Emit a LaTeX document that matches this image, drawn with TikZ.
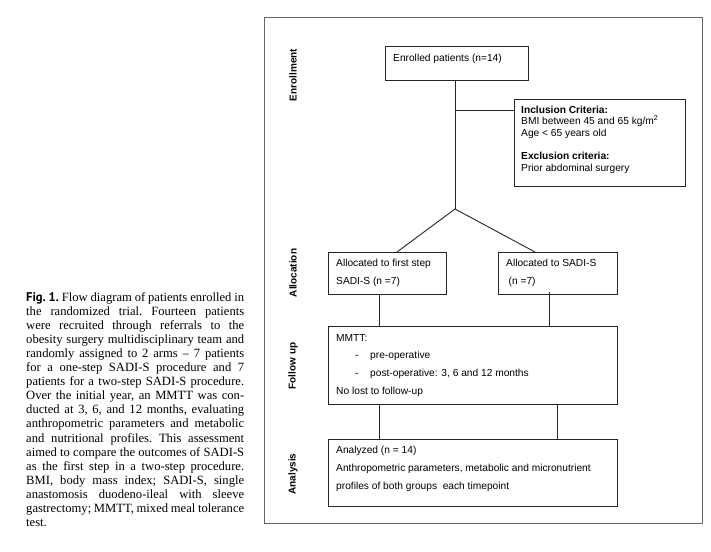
\documentclass[tikz,border=0pt]{standalone}
\usepackage{fontspec}
\setmainfont{Liberation Serif}
\newfontfamily\diag{Liberation Sans}
\newfontfamily\figlab{PT Sans}
\usetikzlibrary{calc}
\begin{document}
\begin{tikzpicture}[x=1pt,y=-1pt,
  box/.style={draw=black!85, line width=0.9pt, anchor=north west, inner sep=0pt},
  txt/.style={anchor=base west, inner sep=0pt, font=\diag\fontsize{10.2}{12}\selectfont},
  lab/.style={rotate=90, inner sep=0pt, font=\diag\bfseries\fontsize{10}{12}\selectfont},
  link/.style={draw=black!85, line width=0.9pt}]
\useasboundingbox (0,0) rectangle (711,551);
\fill[white] (0,0) rectangle (711,551);
% caption
\node[anchor=base west, inner sep=0pt] (cap) at (26,301) {\parbox[t]{218pt}{\frenchspacing\fontsize{12.6}{14.1}\selectfont
{\figlab\bfseries Fig. 1.} Flow diagram of patients enrolled in\linebreak
the randomized trial. Fourteen patients\linebreak
were recruited through referrals to the\linebreak
obesity surgery multidisciplinary team and\linebreak
randomly assigned to 2 arms – 7 patients\linebreak
for a one-step SADI-S procedure and 7\linebreak
patients for a two-step SADI-S procedure.\linebreak
Over the initial year, an MMTT was con-\linebreak
ducted at 3, 6, and 12 months, evaluating\linebreak
anthropometric parameters and metabolic\linebreak
and nutritional profiles. This assessment\linebreak
aimed to compare the outcomes of SADI-S\linebreak
as the first step in a two-step procedure.\linebreak
BMI, body mass index; SADI-S, single\linebreak
anastomosis duodeno-ileal with sleeve\linebreak
gastrectomy; MMTT, mixed meal tolerance\linebreak
test.}};
% frame
\node[draw=black!60, line width=0.8pt, anchor=north west, minimum width=438pt, minimum height=506pt, inner sep=0pt] (frame) at (264,17) {};
% side labels
\node[lab] (lEnr) at (293,75) {Enrollment};
\node[lab] (lAll) at (293,273) {Allocation};
\node[lab] (lFol) at (293,366) {Follow up};
\node[lab] (lAna) at (293,474) {Analysis};
% boxes
\node[box, minimum width=143pt, minimum height=34pt] (enr) at (385,46) {};
\node[box, minimum width=171pt, minimum height=87pt] (incl) at (514,99) {};
\node[box, minimum width=118pt, minimum height=42pt] (al1) at (328,252) {};
\node[box, minimum width=119pt, minimum height=42pt] (al2) at (498,252) {};
\node[box, minimum width=289pt, minimum height=78pt] (mmtt) at (328,326) {};
\node[box, minimum width=289pt, minimum height=67pt] (ana) at (328,439) {};
% texts
\node[txt] (enrT) at (393,61.5) {Enrolled patients (n=14)};
\node[txt] (inclT) at (521,113) {\parbox[t]{160pt}{\baselineskip=11.6pt
\textbf{Inclusion Criteria:}\\
BMI between 45 and 65 kg/m\textsuperscript{2}\\
Age < 65 years old\\[11.6pt]
\textbf{Exclusion criteria:}\\
Prior abdominal surgery}};
\node[txt] (al1T) at (336,266) {\parbox[t]{110pt}{\baselineskip=18pt
Allocated to first step\\
SADI-S (n =7)}};
\node[txt] (al2T) at (506,266) {\parbox[t]{110pt}{\baselineskip=18pt
Allocated to SADI-S\\
\hspace*{2.5pt}(n =7)}};
\node[txt] (mmttT) at (336,341) {\parbox[t]{270pt}{\baselineskip=17.7pt
MMTT:\\
\hspace*{19pt}\makebox[15pt][l]{-}pre-operative\\
\hspace*{19pt}\makebox[15pt][l]{-}post-operative: 3, 6 and 12 months\\
No lost to follow-up}};
\node[txt] (anaT) at (336,453) {\parbox[t]{280pt}{\baselineskip=18pt
Analyzed (n = 14)\\
Anthropometric parameters, metabolic and micronutrient\\
profiles of both groups\ \ each timepoint}};
% connectors
\coordinate (split) at (455,209);
\coordinate (branch) at (455,110);
\draw[link] (split |- enr.south) -- (split);
\draw[link] (branch) -- (branch -| incl.west);
\draw[link] (split) -- ($(al1.north west)+(69,0)$);
\draw[link] (split) -- ($(al2.north west)+(37,0)$);
\draw[link] ($(al1.south west)+(51,0)$) -- ($(mmtt.north west)+(51,0)$);
\draw[link] ($(al2.south west)+(51,-3)$) -- ($(mmtt.north west)+(221,0)$);
\draw[link] ($(mmtt.south west)+(51,0)$) -- ($(ana.north west)+(51,0)$);
\draw[link] ($(mmtt.south west)+(229,0)$) -- ($(ana.north west)+(229,0)$);
\end{tikzpicture}
\end{document}
